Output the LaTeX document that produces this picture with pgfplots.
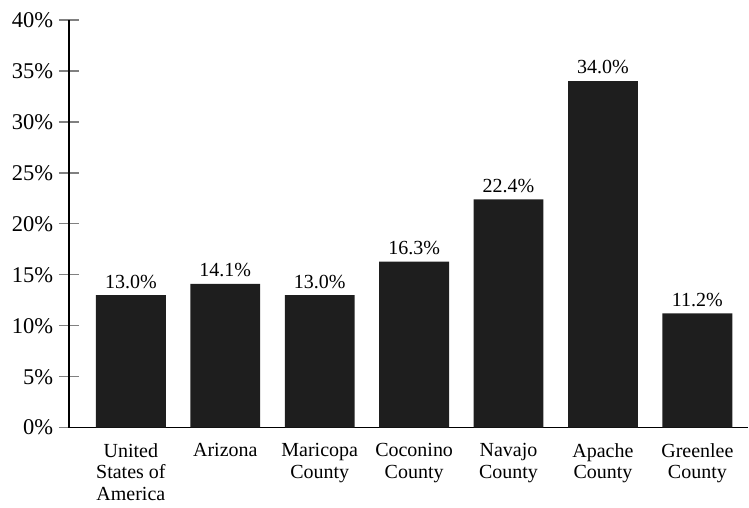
\documentclass[border=0pt]{standalone}
\usepackage{pgfplots}
\pgfplotsset{compat=1.18}
\usepackage{fontspec}
\setmainfont{Liberation Serif}
\definecolor{barc}{HTML}{1E1E1E}
\begin{document}
\fontsize{20}{21.5}\selectfont
\begin{tikzpicture}
\begin{axis}[
  scale only axis,
  width=680pt, height=408pt,
  ymin=0, ymax=40,
  xmin=-0.656, xmax=6.54,
  axis x line=bottom, axis y line=left,
  axis line style={-, line width=1.3pt},
  ytick={0,5,...,40},
  yticklabel={\pgfmathprintnumber{\tick}\%},
  /pgf/number format/assume math mode=true,
  ytick style={line width=1.3pt},
  major tick length=20pt,
  tick align=center,
  xtick=data,
  xtick style={draw=none},
  xticklabels={{United\\States of\\America},Arizona,{Maricopa\\County},{Coconino\\County},{Navajo\\County},{Apache\\County},{Greenlee\\County}},
  xticklabel style={align=center, font=\fontsize{20}{21.5}\selectfont, yshift=11pt},
  yticklabel style={font=\fontsize{22.5}{24}\selectfont, xshift=1pt},
  ybar, bar width=0.74,
  nodes near coords={\pgfmathprintnumber[fixed,fixed zerofill,precision=1,assume math mode=true]{\pgfplotspointmeta}\%},
  every node near coord/.append style={font=\fontsize{20}{22}\selectfont, yshift=0pt},
  clip=false,
]
\addplot[fill=barc, draw=none] coordinates {(0,13.0) (1,14.1) (2,13.0) (3,16.3) (4,22.4) (5,34.0) (6,11.2)};
\end{axis}
\useasboundingbox (current axis.south west) ++(-69pt,-77pt) rectangle ([yshift=20pt]current axis.north east);
\end{tikzpicture}
\end{document}
